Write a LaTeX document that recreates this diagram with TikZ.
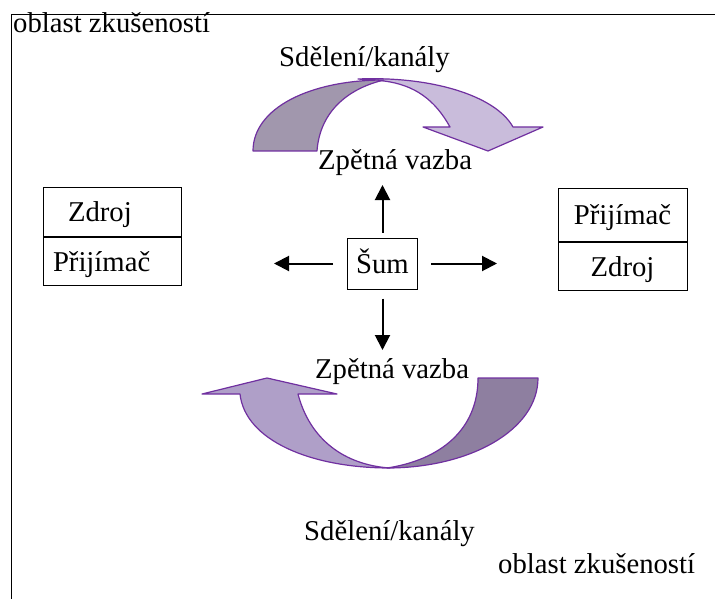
\documentclass[tikz,border=0pt]{standalone}
\usepackage{fontspec}
\setmainfont{Liberation Serif}
\usetikzlibrary{arrows.meta, positioning}

\definecolor{arcline}{HTML}{7030A0}
\definecolor{topdark}{HTML}{A197AD}
\definecolor{toplight}{HTML}{C9BCDB}
\definecolor{botdark}{HTML}{8E7FA0}
\definecolor{botlight}{HTML}{AF9FC8}

\begin{document}
\begin{tikzpicture}[x=1pt, y=-1pt,
    every node/.style={font=\fontsize{28.7}{34}\selectfont},
    txt/.style={inner sep=0pt},
    cell/.style={rectangle, draw, line width=1pt, minimum width=138pt, minimum height=49pt, text height=20pt, text depth=0pt, inner sep=0pt, align=center},
    arrow/.style={-{Triangle[length=15pt,width=15pt]}, line width=2pt},
    curvearrow/.style={draw=arcline, line width=1.2pt, line join=round}
]
\useasboundingbox (0,0) rectangle (715,599);

% frame of the experience field
\draw[line width=1.8pt] (715,14.5) -- (11.5,14.5) -- (11.5,599);

\node[txt, anchor=base west] (fieldtop) at (13,33) {oblast zkušeností};
\node[txt, anchor=base west] (msgtop) at (279,67) {Sdělení/kanály};
\node[txt, anchor=base west] (fbtop) at (318,169) {Zpětná vazba};
\node[txt, anchor=base west] (fbbot) at (315,378) {Zpětná vazba};
\node[txt, anchor=base east] (msgbot) at (475,540) {Sdělení/kanály};
\node[txt, anchor=base west] (fieldbot) at (498,573) {oblast zkušeností};

% left party
\node[cell, text width=118pt, align=left, inner xsep=10pt] (lsrc) at (112,211.5) {\hspace*{15pt}Zdroj};
\node[cell, text width=118pt, align=left, inner xsep=10pt, minimum height=48pt, below=0pt of lsrc] (lrcv) {Přijímač};

% right party
\node[cell, minimum width=129pt, minimum height=53pt] (rrcv) at (622.5,214.5) {Přijímač};
\node[cell, minimum width=129pt, minimum height=48pt, below=0pt of rrcv] (rsrc) {Zdroj};

% noise
\node[cell, minimum width=70pt, minimum height=51pt] (sum) at (382.5,263.5) {Šum};

\coordinate (upend) at (382.5,185);
\coordinate (downend) at (382.5,350);
\coordinate (leftend) at (274,263.5);
\coordinate (rightend) at (497,263.5);

\draw[arrow, shorten <=5pt] (sum) -- (upend);
\draw[arrow, shorten <=9pt] (sum) -- (downend);
\draw[arrow, shorten <=14pt] (sum) -- (leftend);
\draw[arrow, shorten <=13pt] (sum) -- (rightend);

% upper curved arrow
\draw[curvearrow, fill=toplight] (358,79) .. controls (430,76) and (495,95) .. (513,127)
    -- (543,127) -- (488,151) -- (423,127) -- (450,127)
    .. controls (435,100) and (415,85) .. (384,81) -- cycle;
\draw[curvearrow, fill=topdark] (253,151) .. controls (253,108) and (310,80) .. (384,80)
    .. controls (350,88) and (320,110) .. (317,151) -- cycle;

% lower curved arrow
\draw[curvearrow, fill=botdark] (478,378) -- (538,378) .. controls (538,430) and (470,468) .. (387,468)
    .. controls (440,460) and (478,430) .. (478,378) -- cycle;
\draw[curvearrow, fill=botlight] (202,394) -- (267,378) -- (337,394) -- (298,394)
    .. controls (310,440) and (345,465) .. (390,468)
    .. controls (310,468) and (245,440) .. (240,394) -- cycle;
\end{tikzpicture}
\end{document}
